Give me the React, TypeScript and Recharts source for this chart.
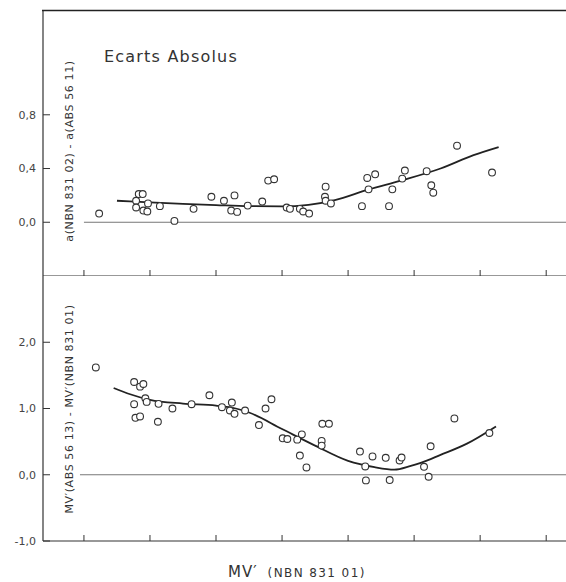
import React from 'react';
import { ComposedChart, Scatter, Line, XAxis, YAxis, ReferenceLine } from 'recharts';

// ---- data ----
const xTicks = [0, 1, 2, 3, 4, 5, 6, 7];

const topYTicks = [0, 0.4, 0.8];
const topYTickLabels = ['0,0', '0,4', '0,8'];
const bottomYTicks = [-1, 0, 1, 2];
const bottomYTickLabels = ['-1,0', '0,0', '1,0', '2,0'];

const topPointX = [0.23, 0.83, 0.89, 0.79, 0.79, 0.9, 0.97, 0.96, 1.15, 1.37, 1.66, 1.93, 2.12, 2.28, 2.23, 2.32, 2.48, 2.7, 2.79, 2.88, 3.07, 3.12, 3.27, 3.32, 3.41, 3.66, 3.65, 3.66, 3.74, 4.21, 4.29, 4.41, 4.31, 4.62, 4.67, 4.86, 4.82, 5.19, 5.26, 5.29, 5.65, 6.18];
const topPointY = [0.065, 0.21, 0.21, 0.16, 0.11, 0.087, 0.14, 0.08, 0.12, 0.01, 0.1, 0.19, 0.16, 0.2, 0.087, 0.077, 0.124, 0.154, 0.31, 0.32, 0.11, 0.1, 0.1, 0.08, 0.065, 0.265, 0.19, 0.16, 0.14, 0.12, 0.33, 0.357, 0.245, 0.12, 0.245, 0.385, 0.325, 0.38, 0.275, 0.22, 0.57, 0.37];

const topCurveX = [0.5, 1.0, 1.5, 2.0, 2.5, 3.0, 3.4, 3.8, 4.3, 4.8, 5.4, 5.9, 6.28];
const topCurveY = [0.16, 0.148, 0.137, 0.128, 0.12, 0.118, 0.13, 0.165, 0.243, 0.31, 0.4, 0.5, 0.56];

const bottomPointX = [0.18, 0.76, 0.85, 0.9, 0.76, 0.93, 0.95, 0.78, 0.85, 1.13, 1.12, 1.34, 1.63, 1.9, 2.09, 2.24, 2.21, 2.28, 2.44, 2.65, 2.75, 2.84, 3.01, 3.08, 3.23, 3.3, 3.27, 3.37, 3.61, 3.71, 3.6, 3.6, 4.18, 4.26, 4.27, 4.37, 4.57, 4.63, 4.78, 4.81, 5.15, 5.22, 5.25, 5.61, 6.14];
const bottomPointY = [1.62, 1.4, 1.33, 1.37, 1.065, 1.155, 1.1, 0.86, 0.88, 1.07, 0.8, 1.0, 1.065, 1.2, 1.02, 1.09, 0.97, 0.92, 0.97, 0.75, 1.0, 1.14, 0.55, 0.54, 0.53, 0.61, 0.29, 0.11, 0.77, 0.77, 0.51, 0.44, 0.35, 0.125, -0.085, 0.276, 0.256, -0.08, 0.215, 0.26, 0.12, -0.03, 0.43, 0.85, 0.63];

const bottomCurveX = [0.45, 0.7, 1.0, 1.5, 2.0, 2.3, 2.5, 3.0, 3.5, 4.0, 4.4, 4.7, 4.95, 5.1, 5.4, 5.8, 6.24];
const bottomCurveY = [1.31, 1.215, 1.13, 1.075, 1.045, 1.0, 0.94, 0.69, 0.44, 0.21, 0.115, 0.078, 0.135, 0.18, 0.3, 0.47, 0.73];

const zip = (xs: number[], ys: number[]) => xs.map((x, i) => ({ x, y: ys[i] }));
const topPoints = zip(topPointX, topPointY);
const topCurve = zip(topCurveX, topCurveY);
const bottomPoints = zip(bottomPointX, bottomPointY);
const bottomCurve = zip(bottomCurveX, bottomCurveY);

// ---- style ----
const W = 566;
const font = '"DejaVu Sans", sans-serif';
const ink = '#333';
const X_DOMAIN: [number, number] = [-0.62, 7.3];
const TOP_DOMAIN: [number, number] = [-0.4, 1.58];
const BOTTOM_DOMAIN: [number, number] = [-1, 3];
const TOP_PX_PER_UNIT = 266 / (TOP_DOMAIN[1] - TOP_DOMAIN[0]);
const BOTTOM_PX_PER_UNIT = 265 / (BOTTOM_DOMAIN[1] - BOTTOM_DOMAIN[0]);
const X_TICK_LEN = 6;

const makeTick = (ticks: number[], labels: string[]) => (props: any) => {
  const { x, y, payload } = props;
  const i = ticks.findIndex((t) => Math.abs(t - payload.value) < 1e-9);
  return (
    <g>
      <line x1={x} x2={x + 7} y1={y} y2={y} stroke={ink} strokeWidth={1} />
      <text x={x - 7} y={y} dy="0.36em" textAnchor="end" fontSize={11} fill="#444" fontFamily={font}>
        {labels[i]}
      </text>
    </g>
  );
};

const TopTick = makeTick(topYTicks, topYTickLabels);
const BottomTick = makeTick(bottomYTicks, bottomYTickLabels);

const OpenCircle = (props: any) => {
  const { cx, cy } = props;
  return <circle cx={cx} cy={cy} r={3.4} fill="#fff" stroke={ink} strokeWidth={1.1} />;
};

const frame = (yVal: number, key: string) => (
  <ReferenceLine
    key={key}
    segment={[{ x: X_DOMAIN[0], y: yVal }, { x: X_DOMAIN[1], y: yVal }]}
    stroke={ink}
    strokeWidth={1.2}
    ifOverflow="visible"
  />
);

const xTickMarks = (yBase: number, pxPerUnit: number) =>
  xTicks.map((t) => (
    <ReferenceLine
      key={`xt${t}`}
      segment={[{ x: t, y: yBase }, { x: t, y: yBase + X_TICK_LEN / pxPerUnit }]}
      stroke={ink}
      strokeWidth={1}
      ifOverflow="visible"
    />
  ));

export default function App() {
  return (
    <div style={{ position: 'absolute', left: 0, top: 0, width: W, height: 582, background: '#fff' }}>
      <div style={{ position: 'absolute', left: 0, top: 0 }}>
        <ComposedChart width={W} height={276} margin={{ top: 10, right: 0, bottom: 0, left: 0 }}>
          <XAxis type="number" dataKey="x" domain={X_DOMAIN} allowDataOverflow hide height={0} />
          <YAxis
            type="number"
            dataKey="y"
            domain={TOP_DOMAIN}
            allowDataOverflow
            ticks={topYTicks}
            interval={0}
            width={43}
            tickSize={0}
            tickMargin={0}
            tickLine={false}
            tick={TopTick}
            axisLine={{ stroke: ink, strokeWidth: 1.2 }}
          />
          {frame(TOP_DOMAIN[0], 'bottom')}
          {xTickMarks(TOP_DOMAIN[0], TOP_PX_PER_UNIT)}
          <ReferenceLine segment={[{ x: 0, y: 0 }, { x: 7.3, y: 0 }]} stroke="#777" strokeWidth={1} ifOverflow="visible" />
          <Line data={topCurve} dataKey="y" type="monotone" stroke="#222" strokeWidth={1.8} dot={false} isAnimationActive={false} />
          <Scatter data={topPoints} shape={OpenCircle} isAnimationActive={false} />
        </ComposedChart>
      </div>
      <div style={{ position: 'absolute', left: 0, top: 276 }}>
        <ComposedChart width={W} height={306} margin={{ top: 0, right: 0, bottom: 41, left: 0 }}>
          <XAxis type="number" dataKey="x" domain={X_DOMAIN} allowDataOverflow hide height={0} />
          <YAxis
            type="number"
            dataKey="y"
            domain={BOTTOM_DOMAIN}
            allowDataOverflow
            ticks={bottomYTicks}
            interval={0}
            width={43}
            tickSize={0}
            tickMargin={0}
            tickLine={false}
            tick={BottomTick}
            axisLine={{ stroke: ink, strokeWidth: 1.2 }}
          />
          {frame(BOTTOM_DOMAIN[0], 'bottom')}
          {xTickMarks(BOTTOM_DOMAIN[0], BOTTOM_PX_PER_UNIT)}
          <ReferenceLine segment={[{ x: -0.06, y: 0 }, { x: 7.3, y: 0 }]} stroke="#777" strokeWidth={1} ifOverflow="visible" />
          <Line data={bottomCurve} dataKey="y" type="monotone" stroke="#222" strokeWidth={1.8} dot={false} isAnimationActive={false} />
          <Scatter data={bottomPoints} shape={OpenCircle} isAnimationActive={false} />
        </ComposedChart>
      </div>
      <svg
        width={W}
        height={582}
        style={{ position: 'absolute', left: 0, top: 0, pointerEvents: 'none' }}
      >
        <line x1={42} x2={W} y1={10.5} y2={10.5} stroke="#222" strokeWidth={1.6} />
        <text x={104} y={62} fontSize={16} letterSpacing={1.2} fill="#333" fontFamily={font}>
          Ecarts Absolus
        </text>
        <text
          x={73}
          y={151}
          transform="rotate(-90 73 151)"
          textAnchor="middle"
          fontSize={11}
          letterSpacing={0.6}
          fill="#333"
          fontFamily={font}
        >
          a(NBN 831 02) - a(ABS 56 11)
        </text>
        <text
          x={73}
          y={409}
          transform="rotate(-90 73 409)"
          textAnchor="middle"
          fontSize={11}
          letterSpacing={0.6}
          fill="#333"
          fontFamily={font}
        >
          MV′(ABS 56 13) - MV′(NBN 831 01)
        </text>
        <text x={228} y={577} fill="#333" fontFamily={font}>
          <tspan fontSize={15} letterSpacing={1}>MV′</tspan>
          <tspan dx={10} fontSize={12} letterSpacing={1.4}>(NBN 831 01)</tspan>
        </text>
      </svg>
    </div>
  );
}
